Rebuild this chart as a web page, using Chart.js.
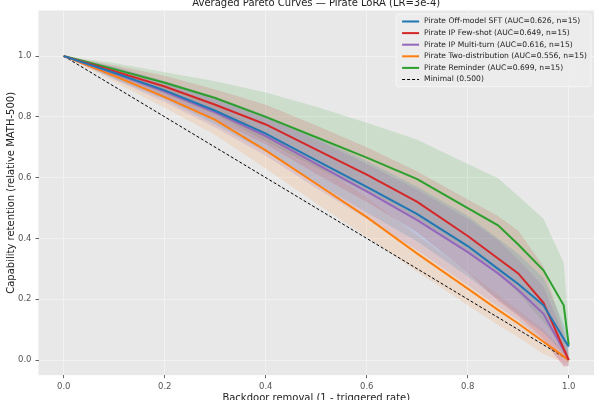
<!DOCTYPE html>
<html>
<head>
<meta charset="utf-8">
<script src="https://cdn.jsdelivr.net/npm/chart.js@4.4.1/dist/chart.umd.min.js"></script>
<style>
  html, body { margin: 0; padding: 0; background: #fff; }
</style>
</head>
<body>
<canvas id="pareto" width="600" height="400"></canvas>
<script>
// shared grid of backdoor removal values (1 - triggered rate)
const removal = [0, 0.1, 0.2, 0.3, 0.4, 0.5, 0.6, 0.7, 0.8, 0.86, 0.9, 0.95, 0.99, 1.0];

// mean capability retention per method
const offModelMean  = [1.0, 0.945, 0.887, 0.820, 0.745, 0.657, 0.570, 0.480, 0.375, 0.300, 0.250, 0.180, 0.070, 0.044];
const fewShotMean   = [1.0, 0.950, 0.900, 0.840, 0.775, 0.692, 0.610, 0.520, 0.408, 0.334, 0.285, 0.188, 0.037, 0.0];
const multiTurnMean = [1.0, 0.943, 0.883, 0.815, 0.737, 0.645, 0.555, 0.460, 0.355, 0.285, 0.230, 0.152, 0.032, 0.0];
const twoDistMean   = [1.0, 0.935, 0.865, 0.790, 0.690, 0.580, 0.470, 0.350, 0.235, 0.165, 0.120, 0.060, 0.012, 0.0];
const reminderMean  = [1.0, 0.957, 0.912, 0.862, 0.800, 0.733, 0.666, 0.595, 0.500, 0.443, 0.380, 0.295, 0.180, 0.050];

// spread (std) shown as shaded band
const offModelStd  = [0, 0.02, 0.03, 0.045, 0.06, 0.075, 0.085, 0.09, 0.10, 0.10, 0.10, 0.09, 0.05, 0.03];
const fewShotStd   = [0, 0.02, 0.035, 0.05, 0.065, 0.08, 0.09, 0.10, 0.12, 0.14, 0.14, 0.12, 0.06, 0.02];
const multiTurnStd = [0, 0.02, 0.035, 0.05, 0.065, 0.08, 0.09, 0.10, 0.11, 0.11, 0.10, 0.09, 0.05, 0.02];
const twoDistStd   = [0, 0.02, 0.035, 0.05, 0.06, 0.065, 0.065, 0.06, 0.055, 0.05, 0.045, 0.04, 0.02, 0.01];
const reminderStd  = [0, 0.02, 0.035, 0.055, 0.08, 0.10, 0.115, 0.13, 0.145, 0.155, 0.16, 0.17, 0.14, 0.07];

const minimalX = [0, 1];
const minimalY = [1, 0];

const seriesLabels = [
  'Pirate Off-model SFT (AUC=0.626, n=15)',
  'Pirate IP Few-shot (AUC=0.649, n=15)',
  'Pirate IP Multi-turn (AUC=0.616, n=15)',
  'Pirate Two-distribution (AUC=0.556, n=15)',
  'Pirate Reminder (AUC=0.699, n=15)'
];
const minimalLabel = 'Minimal (0.500)';

const xTicks = [0, 0.2, 0.4, 0.6, 0.8, 1.0];
const yTicks = [0, 0.2, 0.4, 0.6, 0.8, 1.0];

const colors = ['#1f77b4', '#d62728', '#9467bd', '#ff7f0e', '#2ca02c'];
const bandColors = ['rgba(31,119,180,0.15)', 'rgba(214,39,40,0.15)', 'rgba(148,103,189,0.18)', 'rgba(255,127,14,0.13)', 'rgba(44,160,44,0.15)'];

const means = [offModelMean, fewShotMean, multiTurnMean, twoDistMean, reminderMean];
const stds = [offModelStd, fewShotStd, multiTurnStd, twoDistStd, reminderStd];

function pts(ys) {
  return removal.map((x, i) => ({ x: x, y: ys[i] }));
}

Chart.defaults.font.family = 'DejaVu Sans';
Chart.defaults.color = '#555';

const datasets = [];
// lines (first datasets are drawn on top)
means.forEach((m, i) => {
  datasets.push({
    label: seriesLabels[i],
    data: pts(m),
    borderColor: colors[i],
    backgroundColor: colors[i],
    borderWidth: 2,
    pointRadius: 0,
    fill: false
  });
});
datasets.push({
  label: minimalLabel,
  data: minimalX.map((x, i) => ({ x: x, y: minimalY[i] })),
  borderColor: '#000',
  borderWidth: 1,
  borderDash: [3, 2],
  pointRadius: 0,
  fill: false
});
// shaded bands: upper edge then lower edge filled to it
means.forEach((m, i) => {
  datasets.push({
    label: '_upper' + i,
    data: pts(m.map((v, j) => v + stds[i][j])),
    borderWidth: 0,
    borderColor: 'transparent',
    pointRadius: 0,
    fill: false
  });
  datasets.push({
    label: '_lower' + i,
    data: pts(m.map((v, j) => v - stds[i][j])),
    borderWidth: 0,
    borderColor: 'transparent',
    backgroundColor: bandColors[i],
    pointRadius: 0,
    fill: '-1'
  });
});

const plotBg = {
  id: 'plotBg',
  beforeDraw(chart) {
    const a = chart.chartArea, ctx = chart.ctx;
    ctx.save();
    ctx.fillStyle = '#e8e8e8';
    ctx.fillRect(a.left, a.top, a.right - a.left, a.bottom - a.top);
    ctx.restore();
  }
};

const titleAndLegend = {
  id: 'titleAndLegend',
  afterDraw(chart) {
    const a = chart.chartArea, ctx = chart.ctx;
    ctx.save();
    // title (centred over plot area, partly cut by the top edge)
    ctx.fillStyle = '#222';
    ctx.font = '10px "DejaVu Sans"';
    ctx.textAlign = 'center';
    ctx.textBaseline = 'alphabetic';
    ctx.fillText('Averaged Pareto Curves \u2014 Pirate LoRA (LR=3e-4)', (a.left + a.right) / 2, 6);

    // legend box in the upper right
    const entries = seriesLabels.map((t, i) => ({ text: t, color: colors[i], dash: [] }));
    entries.push({ text: minimalLabel, color: '#000', dash: [3, 2] });
    ctx.font = '7.6px "DejaVu Sans"';
    let tw = 0;
    entries.forEach(e => { tw = Math.max(tw, ctx.measureText(e.text).width); });
    const rowH = 11.6;
    const w = 6 + 17 + 5 + tw + 4;
    const h = entries.length * rowH + 3;
    const x0 = a.right - 3 - w;
    const y0 = a.top + 3.5;
    ctx.fillStyle = 'rgba(236,236,236,0.85)';
    ctx.strokeStyle = '#f6f6f6';
    ctx.lineWidth = 1;
    ctx.beginPath();
    ctx.roundRect(x0, y0, w, h, 2);
    ctx.fill();
    ctx.stroke();
    ctx.textAlign = 'left';
    ctx.textBaseline = 'middle';
    entries.forEach((e, i) => {
      const cy = y0 + 7.5 + i * rowH;
      ctx.strokeStyle = e.color;
      ctx.lineWidth = e.dash.length ? 1 : 2;
      ctx.setLineDash(e.dash);
      ctx.beginPath();
      ctx.moveTo(x0 + 6, cy);
      ctx.lineTo(x0 + 23, cy);
      ctx.stroke();
      ctx.setLineDash([]);
      ctx.fillStyle = '#222';
      ctx.fillText(e.text, x0 + 28, cy);
    });
    ctx.restore();
  }
};

const ctx = document.getElementById('pareto');
const chart = new Chart(ctx, {
  type: 'line',
  data: { datasets: datasets },
  plugins: [plotBg, titleAndLegend],
  options: {
    responsive: false,
    devicePixelRatio: 1,
    animation: false,
    layout: {
      padding: { top: 10.5, right: 6, bottom: 0, left: 0 }
    },
    plugins: {
      legend: { display: false },
      title: { display: false },
      tooltip: { enabled: false }
    },
    elements: {
      line: { tension: 0 }
    },
    scales: {
      x: {
        type: 'linear',
        min: -0.05,
        max: 1.05,
        afterBuildTicks: function (s) { s.ticks = xTicks.map(v => ({ value: v })); },
        afterFit: function (s) { s.height = 24.8; },
        ticks: {
          font: { size: 8.5 },
          color: '#555',
          padding: 3,
          maxRotation: 0,
          callback: v => Number(v).toFixed(1)
        },
        grid: {
          color: '#f2f2f2',
          tickColor: '#666',
          tickLength: 3
        },
        border: { display: false },
        title: {
          display: true,
          text: 'Backdoor removal (1 - triggered rate)',
          color: '#222',
          font: { size: 10 },
          padding: { top: 0, bottom: -4 }
        }
      },
      y: {
        type: 'linear',
        min: -0.05,
        max: 1.15,
        afterBuildTicks: function (s) { s.ticks = yTicks.map(v => ({ value: v })); },
        afterFit: function (s) { s.width = 38.5; },
        ticks: {
          font: { size: 8.5 },
          color: '#555',
          padding: 4,
          callback: v => Number(v).toFixed(1)
        },
        grid: {
          color: '#f2f2f2',
          tickColor: '#666',
          tickLength: 3
        },
        border: { display: false },
        title: {
          display: true,
          text: 'Capability retention (relative MATH-500)',
          color: '#222',
          font: { size: 10 },
          padding: { top: 5.5, bottom: 0 }
        }
      }
    }
  }
});
</script>
</body>
</html>
